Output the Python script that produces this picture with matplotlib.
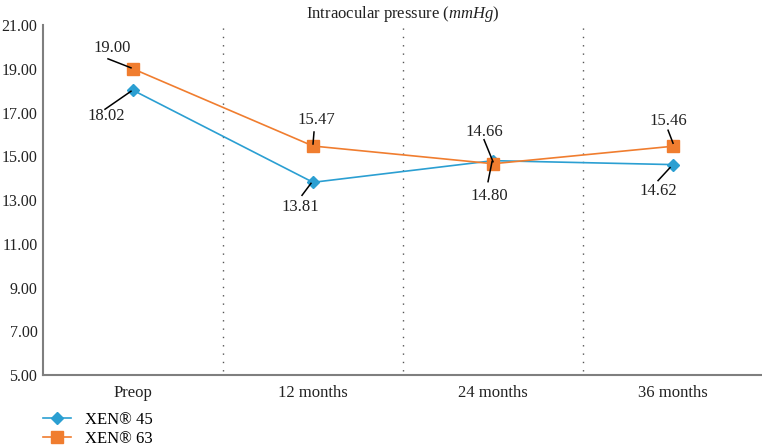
import numpy as np
import matplotlib.pyplot as plt

plt.rcParams['font.family'] = 'Liberation Serif'
plt.rcParams['mathtext.fontset'] = 'custom'
plt.rcParams['mathtext.it'] = 'Liberation Serif:italic'
plt.rcParams['mathtext.rm'] = 'Liberation Serif'

categories = ['Preop', '12 months', '24 months', '36 months']
xen45 = [18.02, 13.81, 14.80, 14.62]
xen63 = [19.00, 15.47, 14.66, 15.46]
y_ticks = [5, 7, 9, 11, 13, 15, 17, 19, 21]

blue = '#2b9fd2'
orange = '#f07d2f'

fig = plt.figure(figsize=(7.62, 4.48), dpi=100)
ax = fig.add_axes([0.0564, 0.163, 0.945, 0.781])

x = np.arange(len(categories))
ax.plot(x, xen45, color=blue, lw=1.2, marker='D', ms=6, label='XEN® 45', zorder=3)
ax.plot(x, xen63, color=orange, lw=1.2, marker='s', ms=8, label='XEN® 63', zorder=3)

# dotted separators between categories
for sep in [0.5, 1.5, 2.5]:
    ax.plot([sep, sep], [5.2, 21], color='#555555', lw=1, ls=(0, (1, 5)), zorder=1)

ax.set_xlim(-0.5, 3.5)
ax.set_ylim(5, 21)
ax.set_xticks(x)
ax.set_xticklabels(categories)
ax.set_yticks(y_ticks)
ax.set_yticklabels(['%.2f' % v for v in y_ticks])
ax.tick_params(length=0, colors='#222222')
ax.tick_params(axis='x', pad=7, labelsize=12)
ax.tick_params(axis='y', pad=4, labelsize=11.5)
for s in ['top', 'right']:
    ax.spines[s].set_visible(False)
for s in ['left', 'bottom']:
    ax.spines[s].set_color('#7f7f7f')
    ax.spines[s].set_linewidth(1.5)

ax.set_title(r'Intraocular pressure ($\it{mmHg}$)', fontsize=12, pad=5, color='#222222')

# (x, y, text, text offset, leader start, leader end) offsets in pixels from the point
labels = [
    (0, xen63[0], '19.00', (-21, 21), (-25, 10), (-2, 1)),
    (0, xen45[0], '18.02', (-27, -26), (-28, -19), (-2, -1)),
    (1, xen63[1], '15.47', (3, 26), (1, 14), (0, 2)),
    (1, xen45[1], '13.81', (-13, -25), (-11, -13), (-2, -1)),
    (2, xen63[2], '14.66', (-9, 32), (-9, 24), (0, 2)),
    (2, xen45[2], '14.80', (-4, -35), (-5, -21), (-1, -1)),
    (3, xen63[3], '15.46', (-5, 25), (-5, 16), (0, 3)),
    (3, xen45[3], '14.62', (-15, -26), (-15, -16), (-3, -3)),
]
inv = ax.transData.inverted()
for xi, yv, txt, toff, l0, l1 in labels:
    ax.annotate(txt, xy=(xi, yv), xytext=toff, textcoords='offset pixels',
                ha='center', va='center', fontsize=12, color='#222222')
    p = ax.transData.transform((xi, yv))
    a = inv.transform((p[0] + l0[0], p[1] + l0[1]))
    b = inv.transform((p[0] + l1[0], p[1] + l1[1]))
    ax.plot([a[0], b[0]], [a[1], b[1]], color='black', lw=1.1, zorder=4)

ax.legend(loc='upper left', bbox_to_anchor=(0, -0.105), frameon=False,
          fontsize=12, handlelength=1.7, labelspacing=0.2, handletextpad=0.8,
          borderpad=0, borderaxespad=0)

fig.savefig('out.png', dpi=100)
